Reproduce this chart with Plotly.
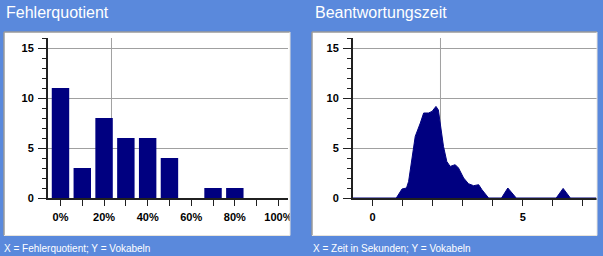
import plotly.graph_objects as go

W, H = 603, 256

# ---- data ----
error_pct = [0, 10, 20, 30, 40, 50, 60, 70, 80, 90, 100]
error_counts = [11, 3, 8, 6, 6, 4, 0, 1, 1, 0, 0]
error_mean = 23.4

time_s = [-0.65, 0.79, 0.98, 1.13, 1.20, 1.31, 1.42, 1.59, 1.70, 1.86, 1.98, 2.11, 2.19,
          2.25, 2.36, 2.47, 2.58, 2.75, 2.86, 3.03, 3.19, 3.36, 3.53, 3.64, 3.80, 3.86,
          4.29, 4.50, 4.78, 6.11, 6.34, 6.58, 7.45]
time_counts = [0, 0, 0.9, 1.0, 1.66, 4.16, 6.16, 7.5, 8.5, 8.5, 8.66, 9.16, 8.8,
               7.5, 5.16, 3.66, 3.16, 3.33, 3.0, 2.0, 1.43, 1.23, 1.33, 0.83, 0.16, 0,
               0, 1.0, 0, 0, 0.96, 0, 0]
time_mean = 2.26

titles = ["Fehlerquotient", "Beantwortungszeit"]
captions = ["X = Fehlerquotient; Y = Vokabeln", "X = Zeit in Sekunden; Y = Vokabeln"]

BG = "#5A89DC"
NAVY = "#000080"
GRID = "#A0A0A0"
FONT = "Liberation Sans, Arial, sans-serif"


def px(x):
    return x / W


def py(y):
    return 1 - y / H


fig = go.Figure()

fig.add_trace(go.Bar(x=error_pct, y=error_counts, width=8,
                     marker=dict(color=NAVY, line=dict(width=0)),
                     xaxis="x", yaxis="y", showlegend=False, hoverinfo="skip"))
fig.add_trace(go.Scatter(x=time_s, y=time_counts, mode="lines", fill="tozeroy", fillcolor=NAVY,
                         line=dict(color=NAVY, width=1), xaxis="x2", yaxis="y2", showlegend=False,
                         hoverinfo="skip"))

tickfont = dict(family=FONT, size=11, color="black", weight="bold")

yaxis_common = dict(range=[0, 16], domain=[py(198), py(38)], showline=True, linecolor="#202020", linewidth=2,
                    ticks="outside", ticklen=8, tickcolor="#202020", tickwidth=1, dtick=5, tick0=0,
                    minor=dict(dtick=1, ticks="outside", ticklen=4, tickcolor="#202020", showgrid=False),
                    showgrid=True, gridcolor=GRID, gridwidth=1, zeroline=False, tickfont=tickfont,
                    fixedrange=True, automargin=False, ticklabelstandoff=2)

xaxis_common = dict(showline=True, linecolor="#202020", linewidth=2, ticks="outside", ticklen=6,
                    tickcolor="#202020", showgrid=False, zeroline=False, tickfont=tickfont,
                    automargin=False, fixedrange=True, ticklabelstandoff=2)

fig.update_layout(
    template="none",
    width=W, height=H, margin=dict(l=0, r=0, t=0, b=0, pad=0, autoexpand=False),
    paper_bgcolor=BG, plot_bgcolor="white",
    xaxis=dict(domain=[px(48), px(288)], range=[-5.73, 104.4], dtick=20, tick0=0, ticksuffix="%",
               minor=dict(dtick=10, ticks="outside", ticklen=6, tickcolor="#202020"),
               anchor="y", **xaxis_common),
    yaxis=dict(anchor="x", **yaxis_common),
    xaxis2=dict(domain=[px(353), px(596.5)], range=[-0.65, 7.45], dtick=5, tick0=0,
                minor=dict(dtick=1, ticks="outside", ticklen=6, tickcolor="#202020"),
                anchor="y2", **xaxis_common),
    yaxis2=dict(anchor="x2", **yaxis_common),
)

panels = [(4, 290), (312, 597)]
for (x0, x1) in panels:
    fig.add_shape(type="rect", xref="paper", yref="paper", x0=px(x0), x1=px(x1), y0=py(235.5), y1=py(32),
                  fillcolor="white", line=dict(width=0), layer="below")
# mean lines
fig.add_shape(type="line", xref="x", yref="y", x0=error_mean, x1=error_mean, y0=0, y1=16,
              line=dict(color=GRID, width=1), layer="below")
fig.add_shape(type="line", xref="x2", yref="y2", x0=time_mean, x1=time_mean, y0=0, y1=16,
              line=dict(color=GRID, width=1), layer="below")
# blue gap strip clipping the cut-off tick label
fig.add_shape(type="rect", xref="paper", yref="paper", x0=px(290), x1=px(312), y0=py(236), y1=py(32),
              fillcolor=BG, line=dict(width=0), layer="above")
# panel borders
for (x0, x1) in panels:
    fig.add_shape(type="line", xref="paper", yref="paper", x0=px(x0), x1=px(x1), y0=py(32), y1=py(32),
                  line=dict(color="#9A9A9A", width=1.5), layer="above")
    fig.add_shape(type="line", xref="paper", yref="paper", x0=px(x0), x1=px(x0), y0=py(32), y1=py(235.5),
                  line=dict(color="#9A9A9A", width=1.5), layer="above")
    fig.add_shape(type="line", xref="paper", yref="paper", x0=px(x1), x1=px(x1), y0=py(32), y1=py(235.5),
                  line=dict(color="#E8E4DC", width=1), layer="above")
    fig.add_shape(type="line", xref="paper", yref="paper", x0=px(x0), x1=px(x1), y0=py(235.5), y1=py(235.5),
                  line=dict(color="#E8E4DC", width=1), layer="above")

title_x = [4, 313]
for tx, t, c in zip(title_x, titles, captions):
    fig.add_annotation(text=t, xref="paper", yref="paper", x=px(tx), y=py(12), xanchor="left", yanchor="middle",
                       showarrow=False, font=dict(family=FONT, size=16, color="white"))
    fig.add_annotation(text=c, xref="paper", yref="paper", x=px(tx - 2), y=py(248), xanchor="left",
                       yanchor="middle", showarrow=False, font=dict(family=FONT, size=10, color="white"))

fig.write_html("out.html")
